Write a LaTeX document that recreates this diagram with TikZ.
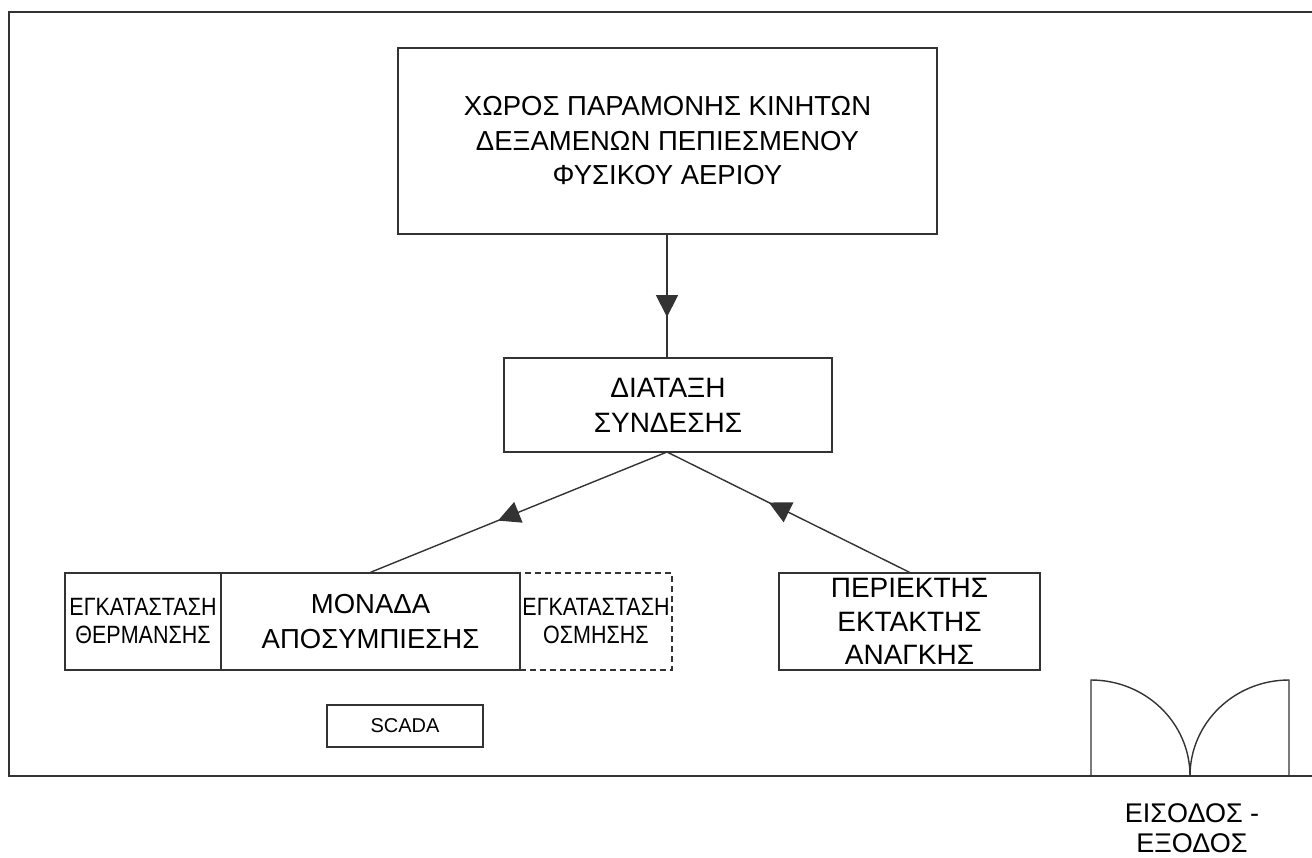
\documentclass[tikz,border=0pt]{standalone}
\usepackage{fontspec}
\setmainfont{Liberation Sans}
\newfontfamily\condfont[FakeStretch=0.86]{Liberation Sans}
\usetikzlibrary{arrows.meta,decorations.markings}
\tikzset{
  ln/.style={line width=1.4pt, draw=black!80},
  box/.style={ln, rectangle, inner sep=0pt, align=center, font=\fontsize{27.5}{34.5}\selectfont},
  smallbox/.style={box, font=\condfont\fontsize{25}{28}\selectfont},
  midarrow/.style={ln, postaction={decorate}, decoration={markings,
      mark=at position #1 with {\arrow{Triangle[length=22pt,width=22pt]}}}},
}
\begin{document}
\begin{tikzpicture}[x=1pt,y=-1pt]
\useasboundingbox (0,0) rectangle (1312,857);
% outer frame
\draw[ln] (1312,12) -- (9,12) -- (9,776) -- (1312,776);
% nodes
\node[box, minimum width=539pt, minimum height=186pt] (top) at (667.5,141)
  {ΧΩΡΟΣ ΠΑΡΑΜΟΝΗΣ ΚΙΝΗΤΩΝ\\ΔΕΞΑΜΕΝΩΝ ΠΕΠΙΕΣΜΕΝΟΥ\\ΦΥΣΙΚΟΥ ΑΕΡΙΟΥ};
\draw[ln] (top.north west) rectangle (top.south east);
\node[box, draw, minimum width=328pt, minimum height=94pt, font=\fontsize{28}{35}\selectfont] (mid) at (668,405)
  {ΔΙΑΤΑΞΗ\\ΣΥΝΔΕΣΗΣ};
\node[smallbox, draw, minimum width=156pt, minimum height=97pt] (heat) at (143,621.5)
  {ΕΓΚΑΤΑΣΤΑΣΗ\\ΘΕΡΜΑΝΣΗΣ};
\node[smallbox, draw, dashed, dash pattern=on 6pt off 4pt, minimum width=152pt, minimum height=97pt] (osm) at (596,621.5)
  {ΕΓΚΑΤΑΣΤΑΣΗ\\ΟΣΜΗΣΗΣ};
\node[box, draw, minimum width=299pt, minimum height=97pt] (mon) at (370.5,621.5)
  {ΜΟΝΑΔΑ\\ΑΠΟΣΥΜΠΙΕΣΗΣ};
\node[box, draw, minimum width=261pt, minimum height=97pt, font=\fontsize{28}{33.5}\selectfont] (per) at (909.5,621.5)
  {ΠΕΡΙΕΚΤΗΣ\\ΕΚΤΑΚΤΗΣ\\ΑΝΑΓΚΗΣ};
\node[box, draw, minimum width=156pt, minimum height=42pt, font=\fontsize{20}{24}\selectfont] (scada) at (405,726)
  {SCADA};
% connectors
\coordinate (topout) at (667,234);
\coordinate (midin) at (667,358);
\coordinate (midout) at (667,452);
\draw[midarrow=0.67] (topout) -- (midin);
\draw[midarrow=0.57] (midout) -- (mon.north);
\draw[midarrow=0.58] (per.north) -- (midout);
% door
\coordinate (dl) at (1091,776);
\coordinate (dr) at (1289,776);
\draw[ln] (dl) -- (1091,680) arc[start angle=90, end angle=0, x radius=99pt, y radius=96pt];
\draw[ln] (dr) -- (1289,680) arc[start angle=90, end angle=180, x radius=99pt, y radius=96pt];
\node[align=center, inner sep=0pt, font=\fontsize{27}{30}\selectfont] (door) at (1192,828)
  {ΕΙΣΟΔΟΣ -\\ΕΞΟΔΟΣ};
\end{tikzpicture}
\end{document}
